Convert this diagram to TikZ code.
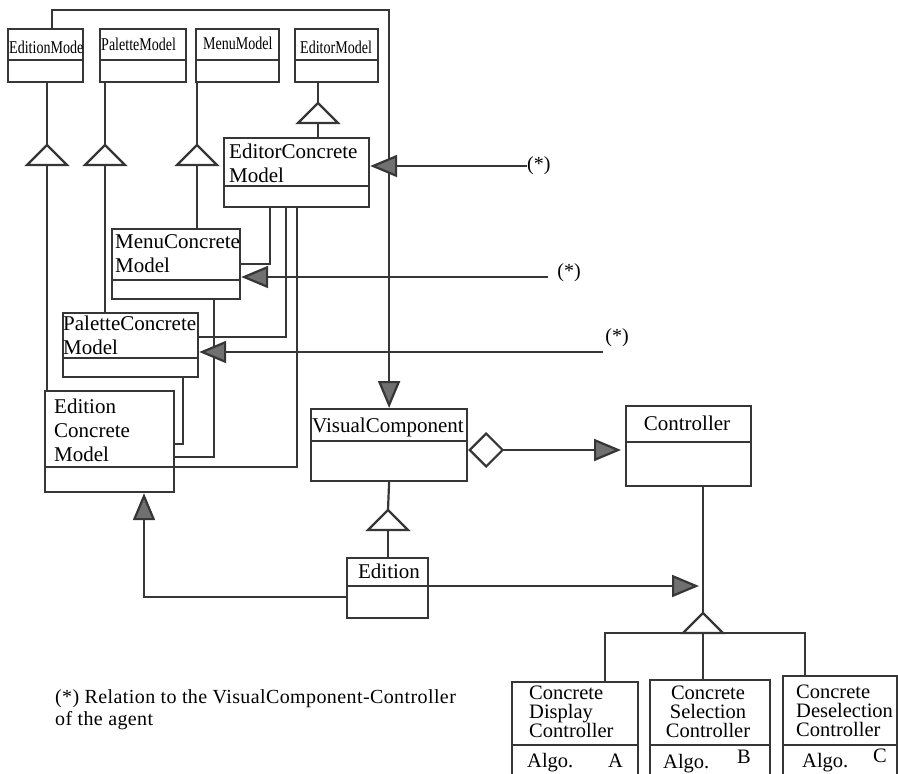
\documentclass[tikz,border=0pt]{standalone}
\usepackage{fontspec}
\setmainfont{Liberation Serif}
\newfontfamily\narrowfont[FakeStretch=0.78]{Liberation Serif}
\newfontfamily\spacedfont[LetterSpace=2]{Liberation Serif}
\usetikzlibrary{arrows.meta}
\definecolor{linec}{HTML}{363636}
\definecolor{tipgray}{HTML}{707070}

\begin{document}
\begin{tikzpicture}[x=1pt,y=-1pt,
  cls/.style={draw=linec, line width=2.2pt, anchor=north west, inner sep=0pt},
  divi/.style={draw=linec, line width=2pt},
  wire/.style={draw=linec, line width=2.2pt},
  ttl/.style={inner sep=0pt, font=\fontsize{21}{24}\selectfont, align=left},
  sub/.style={inner sep=0pt, font=\narrowfont\fontsize{18}{20}\selectfont},
  low/.style={inner sep=0pt, font=\fontsize{20.5}{19}\selectfont},
  star/.style={inner sep=0pt, font=\fontsize{20}{22}\selectfont},
  arr/.style={-{Triangle[length=27pt,width=22pt,fill=tipgray]}},
  gen/.pic={\draw[wire, fill=white] (0,0) -- (-20,20) -- (20,20) -- cycle;
    \coordinate (-top) at (0,0); \coordinate (-bot) at (0,20);}
]
\useasboundingbox (0,0) rectangle (898,774);
\clip (0,0) rectangle (898,774);

% abstract models
\node[cls, minimum width=75pt, minimum height=53pt] (emod) at (7,28) {};
\node[cls, minimum width=86pt, minimum height=53pt] (pmod) at (99,28) {};
\node[cls, minimum width=83pt, minimum height=53pt] (mmod) at (195,28) {};
\node[cls, minimum width=83pt, minimum height=53pt] (edmod) at (294,28) {};
\foreach \b in {emod,pmod,mmod,edmod}
	\draw[divi] (\b.west |- 0,60) -- (\b.east |- 0,60);
\node[sub, anchor=base west] (emodt) at (9,53) {EditionMode};
\node[sub, anchor=base west] (pmodt) at (101,50) {PaletteModel};
\node[sub, anchor=base west] (mmodt) at (203,49) {MenuModel};
\node[sub, anchor=base west] (edmodt) at (300,53) {EditorModel};

% concrete models
\node[cls, minimum width=145pt, minimum height=69pt] (ecm) at (223,137) {};
\draw[divi] (ecm.west |- 0,186) -- (ecm.east |- 0,186);
\node[ttl, anchor=north west] (ecmt) at (229,144) {EditorConcrete\\Model};
\node[cls, minimum width=128pt, minimum height=70pt] (mcm) at (111,228) {};
\draw[divi] (mcm.west |- 0,280) -- (mcm.east |- 0,280);
\node[ttl, anchor=north west] (mcmt) at (115,234) {MenuConcrete\\Model};
\node[cls, minimum width=135pt, minimum height=64pt] (pcm) at (62,312) {};
\draw[divi] (pcm.west |- 0,358) -- (pcm.east |- 0,358);
\node[ttl, anchor=north west] (pcmt) at (63,316) {PaletteConcrete\\Model};
\node[cls, minimum width=129pt, minimum height=101pt] (ecmod) at (44,390) {};
\draw[divi] (ecmod.west |- 0,467) -- (ecmod.east |- 0,467);
\node[ttl, anchor=north west] (ecmodt) at (54,399) {Edition\\Concrete\\Model};

% visual component, controller, edition
\node[cls, minimum width=156pt, minimum height=72pt] (vc) at (310,408) {};
\draw[divi] (vc.west |- 0,441) -- (vc.east |- 0,441);
\node[ttl, anchor=base] (vct) at (388,432) {VisualComponent};
\node[cls, minimum width=125pt, minimum height=80pt] (ctrl) at (625,405) {};
\draw[divi] (ctrl.west |- 0,442) -- (ctrl.east |- 0,442);
\node[ttl, anchor=base] (ctrlt) at (687,430) {Controller};
\node[cls, minimum width=81pt, minimum height=60pt] (edn) at (346,557) {};
\draw[divi] (edn.west |- 0,586) -- (edn.east |- 0,586);
\node[ttl, anchor=base] (ednt) at (389,578) {Edition};

% concrete controllers
\node[cls, minimum width=126pt, minimum height=130pt] (cda) at (511,681) {};
\node[cls, minimum width=120pt, minimum height=130pt] (csc) at (649,679) {};
\node[cls, minimum width=114pt, minimum height=130pt] (cdc) at (782,675) {};
\foreach \b in {cda,csc,cdc}
	\draw[divi] (\b.west |- 0,745) -- (\b.east |- 0,745);
\node[low, anchor=north west, align=left] (cdat) at (529,685.5) {Concrete\\Display\\Controller};
\node[low, anchor=north, align=center] (csct) at (708,685.5) {Concrete\\Selection\\Controller};
\node[low, anchor=north west, align=left] (cdct) at (796,684.5) {Concrete\\Deselection\\Controller};
\node[low, anchor=base west] (algA) at (527,767) {Algo.};
\node[low, anchor=base west] (letA) at (608,767) {A};
\node[low, anchor=base west] (algB) at (663,768) {Algo.};
\node[low, anchor=base west] (letB) at (737,763) {B};
\node[low, anchor=base west] (algC) at (802,767) {Algo.};
\node[low, anchor=base west] (letC) at (873,762) {C};

% relations to the agent
\node[star, anchor=west] (s1) at (527,166) {(*)};
\node[star] (s2) at (569,273) {(*)};
\node[star] (s3) at (617,338) {(*)};
\coordinate (e2) at (548,277);
\coordinate (e3) at (603,352);
\node[star, font=\spacedfont\fontsize{20}{22}\selectfont, anchor=north west, align=left] (note) at (55,689) {(*) Relation to the VisualComponent-Controller\\of the agent};

% generalisations
\pic (gEd) at (47,145) {gen};
\pic (gPa) at (105,145) {gen};
\pic (gMe) at (197,145) {gen};
\pic (gEr) at (318,103) {gen};
\pic (gVc) at (388,510) {gen};
\pic (gCo) at (703,613) {gen};
\draw[wire] (emod.south -| gEd-top) -- (gEd-top);
\draw[wire] (gEd-bot) -- (ecmod.north -| gEd-bot);
\draw[wire] (pmod.south -| gPa-top) -- (gPa-top);
\draw[wire] (gPa-bot) -- (pcm.north -| gPa-bot);
\draw[wire] (mmod.south -| gMe-top) -- (gMe-top);
\draw[wire] (gMe-bot) -- (mcm.north -| gMe-bot);
\draw[wire] (edmod.south -| gEr-top) -- (gEr-top);
\draw[wire] (gEr-bot) -- (ecm.north -| gEr-bot);
\draw[wire] (vc.south) -- (gVc-top);
\draw[wire] (gVc-bot) -- (edn.north -| gVc-bot);
\draw[wire] (ctrl.south -| gCo-top) -- (gCo-top);
\draw[wire] (cda.north -| 605,0) |- (gCo-bot);
\draw[wire] (cdc.north -| 805,0) |- (gCo-bot);
\draw[wire] (csc.north -| gCo-bot) -- (gCo-bot);

% associations
\draw[wire, arr] (emod.north -| 52,0) -- ++(0,-18) -| (vc.north);
\draw[wire] (ecm.south -| 270,0) |- (mcm.east |- 0,264);
\draw[wire] (ecm.south -| 286,0) |- (pcm.east |- 0,337);
\draw[wire] (ecm.south -| 297,0) |- (ecmod.east |- 0,467);
\draw[wire] (mcm.south -| 214,0) |- (ecmod.east |- 0,457);
\draw[wire] (pcm.south -| 183,0) |- (ecmod.east |- 0,444);
\draw[wire, arr] (s1.west) -- (ecm.east |- s1.west);
\draw[wire, arr] (e2) -- (mcm.east |- e2);
\draw[wire, arr] (e3) -- (pcm.east |- e3);
\draw[wire, {Diamond[open,length=36pt,width=36pt]}-{Triangle[length=27pt,width=22pt,fill=tipgray]}, shorten >=4pt] (vc.east |- 0,450) -- (ctrl.west |- 0,450);
\draw[wire, arr] (edn.west |- 0,597) -| (ecmod.south -| 144,0);
\draw[wire, arr, shorten >=4pt] (edn.east |- 0,586) -- (gCo-top |- 0,586);
\end{tikzpicture}
\end{document}
